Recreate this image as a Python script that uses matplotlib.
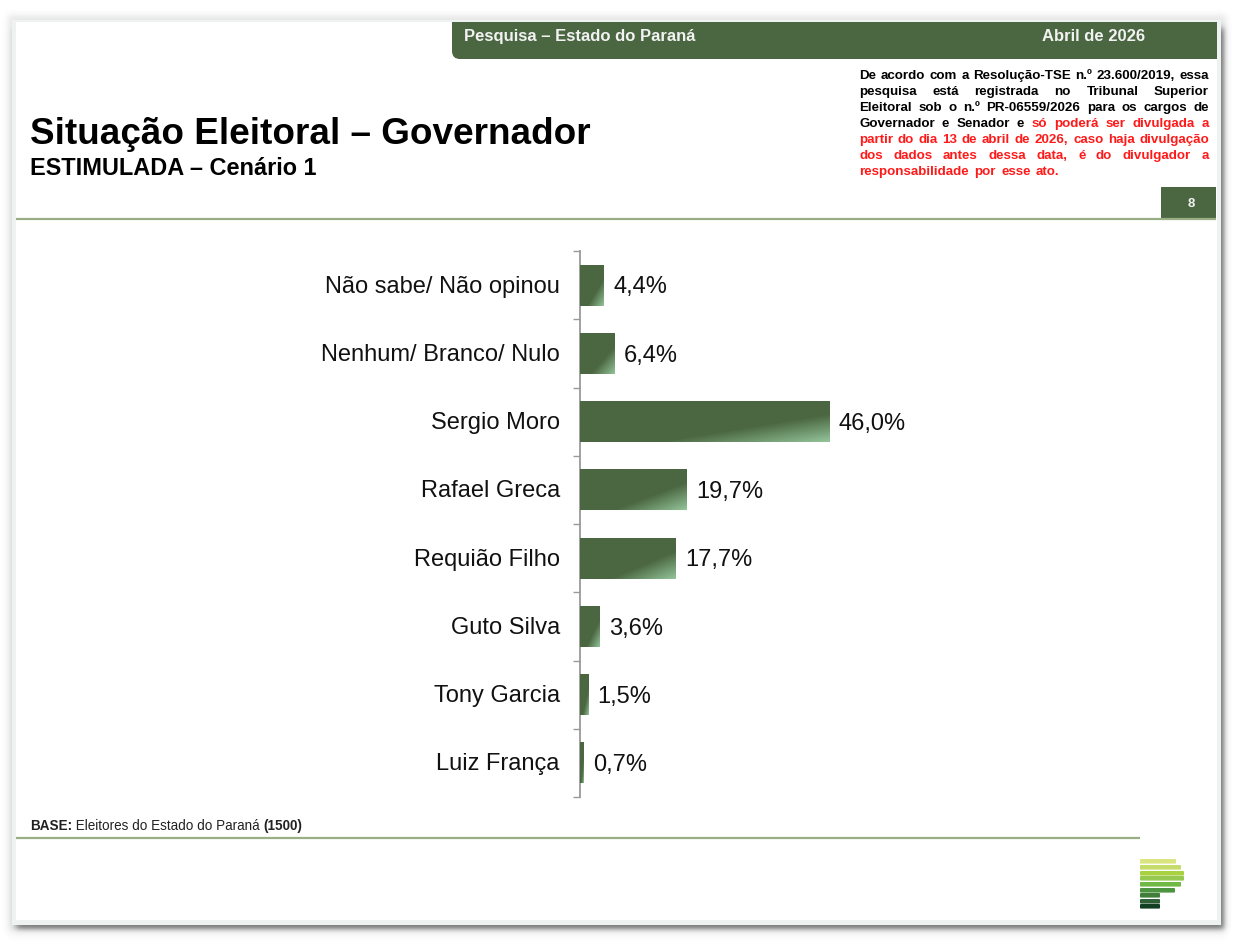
#!/usr/bin/env python

import numpy as np
import matplotlib
matplotlib.use('Agg')
import matplotlib.pyplot as plt
from matplotlib.colors import to_rgb
from matplotlib.patches import Rectangle, FancyBboxPatch
from matplotlib.transforms import ScaledTranslation

categories = ['Não sabe/ Não opinou', 'Nenhum/ Branco/ Nulo', 'Sergio Moro', 'Rafael Greca',
              'Requião Filho', 'Guto Silva', 'Tony Garcia', 'Luiz França']
values = [4.4, 6.4, 46.0, 19.7, 17.7, 3.6, 1.5, 0.7]
value_labels = ['4,4%', '6,4%', '46,0%', '19,7%', '17,7%', '3,6%', '1,5%', '0,7%']

title = 'Situação Eleitoral – Governador'
subtitle = 'ESTIMULADA – Cenário 1'
header_left = 'Pesquisa – Estado do Paraná'
header_right = 'Abril de 2026'
page_number = '8'
base_parts = [('BASE:', 'bold'), (' Eleitores do Estado do Paraná ', 'normal'), ('(1500)', 'bold')]

notice_black = [
    'De acordo com a Resolução-TSE n.º 23.600/2019, essa',
    'pesquisa está registrada no Tribunal Superior',
    'Eleitoral sob o n.º PR-06559/2026 para os cargos de',
    'Governador e Senador e',
    '',
    '',
    '',
]
notice_red = [
    '',
    '',
    '',
    'só poderá ser divulgada a',
    'partir do dia 13 de abril de 2026, caso haja divulgação',
    'dos dados antes dessa data, é do divulgador a',
    'responsabilidade por esse ato.',
]

GREEN = '#4b6741'
LIGHT = '#93c49a'
LINE = '#9aae85'
LOGO_COLORS = ['#dbe57f', '#c5dc6a', '#a9d243', '#95c94f', '#6fb944',
               '#4c9440', '#3f7f3a', '#2f5f36', '#123f22']

plt.rcParams['font.family'] = ['Liberation Sans', 'DejaVu Sans']

W, H = 1238, 944
fig = plt.figure(figsize=(W / 100, H / 100), dpi=100, facecolor='white')

# page layer, in pixels
page = fig.add_axes([0, 0, 1, 1])
page.set_xlim(0, W)
page.set_ylim(H, 0)
page.axis('off')


def soft(d, blur):
    return 1 / (1 + np.exp(-d / blur))


# blurred shadow around the slide
px, py = np.meshgrid(np.arange(W) + 0.5, np.arange(H) + 0.5)
shadow = np.zeros((H, W, 4))
shadow[..., :3] = 0.25
outer = soft(px - 8, 2) * soft(1226 - px, 2) * soft(py - 15, 2) * soft(932 - py, 3)
inner = soft(px - 16, 2) * soft(1224 - px, 1.5) * soft(py - 28, 2) * soft(929 - py, 1.5)
shadow[..., 3] = 0.12 * outer + 0.6 * inner
page.imshow(shadow, extent=(0, W, H, 0), aspect='auto', interpolation='nearest', zorder=0)
page.set_xlim(0, W)
page.set_ylim(H, 0)

page.add_patch(Rectangle((12, 20), 1209, 905, fc='#eef2f0', ec='none'))
page.add_patch(Rectangle((16, 22), 1201, 898, fc='white', ec='none'))

# header band with rounded lower left corner
page.add_patch(FancyBboxPatch((460, 30), 749, 21, boxstyle='round,pad=8,rounding_size=8',
                              fc=GREEN, ec='none'))
page.add_patch(Rectangle((470, 22), 747, 37, fc=GREEN, ec='none'))
page.add_patch(Rectangle((452, 22), 30, 20, fc=GREEN, ec='none'))
page.text(464, 41, header_left, color='#f2f2f2', fontsize=11.95, fontweight='bold', va='baseline')
page.text(1042, 41, header_right, color='#f2f2f2', fontsize=11.95, fontweight='bold', va='baseline')

page.text(30, 144, title, fontsize=26.6, fontweight='bold', color='black', va='baseline')
page.text(30, 175, subtitle, fontsize=16.95, fontweight='bold', color='black', va='baseline')

page.plot([16, 1216], [219, 219], color=LINE, lw=1.6, solid_capstyle='butt')
page.add_patch(Rectangle((1161, 187), 55, 33, fc=GREEN, ec='none'))
page.text(1191, 204, page_number, color='#f2f2f2', fontsize=9.5, fontweight='bold',
          ha='center', va='center')

renderer = fig.canvas.get_renderer()


def text_width(s, **kw):
    t = page.text(0, 0, s, **kw)
    w = t.get_window_extent(renderer).width
    t.remove()
    return w


# notice box, justified by hand word by word
NOTE_LEFT, NOTE_RIGHT = 859, 1209
note_y = [79, 95, 111, 127, 143, 159, 175]
note_font = dict(fontsize=9.6, fontweight='bold')
for n, (black, red, y) in enumerate(zip(notice_black, notice_red, note_y)):
    words = [(w, 'black') for w in black.split()] + [(w, '#ff1a1a') for w in red.split()]
    widths = [text_width(w, **note_font) for w, c in words]
    if n == len(note_y) - 1:
        gap = 5.5
    else:
        gap = (NOTE_RIGHT - NOTE_LEFT - sum(widths)) / (len(words) - 1)
    x = NOTE_LEFT
    for (w, c), ww in zip(words, widths):
        page.text(x, y, w, color=c, va='baseline', **note_font)
        x += ww + gap

# base line
x = 30
for s, weight in base_parts:
    page.text(x, 830, s, fontsize=9.75, fontweight=weight, color='#222222', va='baseline')
    x += text_width(s.replace(' ', '\u00a0'), fontsize=9.75, fontweight=weight)
page.plot([16, 1140], [838, 838], color=LINE, lw=1.6, solid_capstyle='butt')

# logo
logo_top = [859, 865, 871, 876, 882, 888, 893, 899, 904]
logo_right = [1176, 1181, 1184, 1184, 1181, 1175, 1160, 1160, 1160]
for top, right, c in zip(logo_top, logo_right, LOGO_COLORS):
    page.add_patch(FancyBboxPatch((1141, top + 1), right - 1142, 2.6,
                                  boxstyle='round,pad=1,rounding_size=1', fc=c, ec='none'))

# chart layer
PX_PER_UNIT = 5.42
ax_left, ax_right, ax_top, ax_bottom = 580, 1100, 251, 797
ax = fig.add_axes([ax_left / W, 1 - ax_bottom / H, (ax_right - ax_left) / W, (ax_bottom - ax_top) / H])
ax.patch.set_alpha(0)
y_pos = np.arange(len(categories))
bars = ax.barh(y_pos, values, height=0.6, color=GREEN, edgecolor='none')

# diagonal gradient, dark until close to the lower right corner
dark_rgb = np.array(to_rgb(GREEN))
light_rgb = np.array(to_rgb(LIGHT))
u, v = np.meshgrid(np.linspace(0, 1, 200), np.linspace(0, 1, 60))
t = np.clip(((u + v) / 2 - 0.66) / 0.34, 0, 1)[..., None]
gradient = dark_rgb * (1 - t) + light_rgb * t
for bar in bars:
    x0, y0 = bar.get_x(), bar.get_y()
    ax.imshow(gradient, extent=(x0, x0 + bar.get_width(), y0 + bar.get_height(), y0),
              aspect='auto', interpolation='bilinear', zorder=3)
ax.set_xlim(0, (ax_right - ax_left) / PX_PER_UNIT)
ax.set_ylim(len(categories) - 0.5, -0.5)

for spine in ['top', 'right', 'bottom']:
    ax.spines[spine].set_visible(False)
ax.spines['left'].set_color('#9a9a9a')
ax.spines['left'].set_linewidth(1.3)
ax.xaxis.set_visible(False)
ax.set_yticks(y_pos)
ax.set_yticklabels(categories, fontsize=17, color='#111111')
ax.set_yticks(np.arange(len(categories) + 1) - 0.5, minor=True)
ax.tick_params(axis='y', which='major', length=0, pad=14.5)
ax.tick_params(axis='y', which='minor', length=5, width=1, color='#9a9a9a')
for label in ax.get_yticklabels():
    label.set_transform(label.get_transform() + ScaledTranslation(0, 1 / 100, fig.dpi_scale_trans))

for yy, val, lab in zip(y_pos, values, value_labels):
    ax.annotate(lab, (val, yy), xytext=(6.6, -1.6), textcoords='offset points', fontsize=17,
                color='#111111', va='center', ha='left', zorder=4)

fig.savefig('out.png', dpi=100)
